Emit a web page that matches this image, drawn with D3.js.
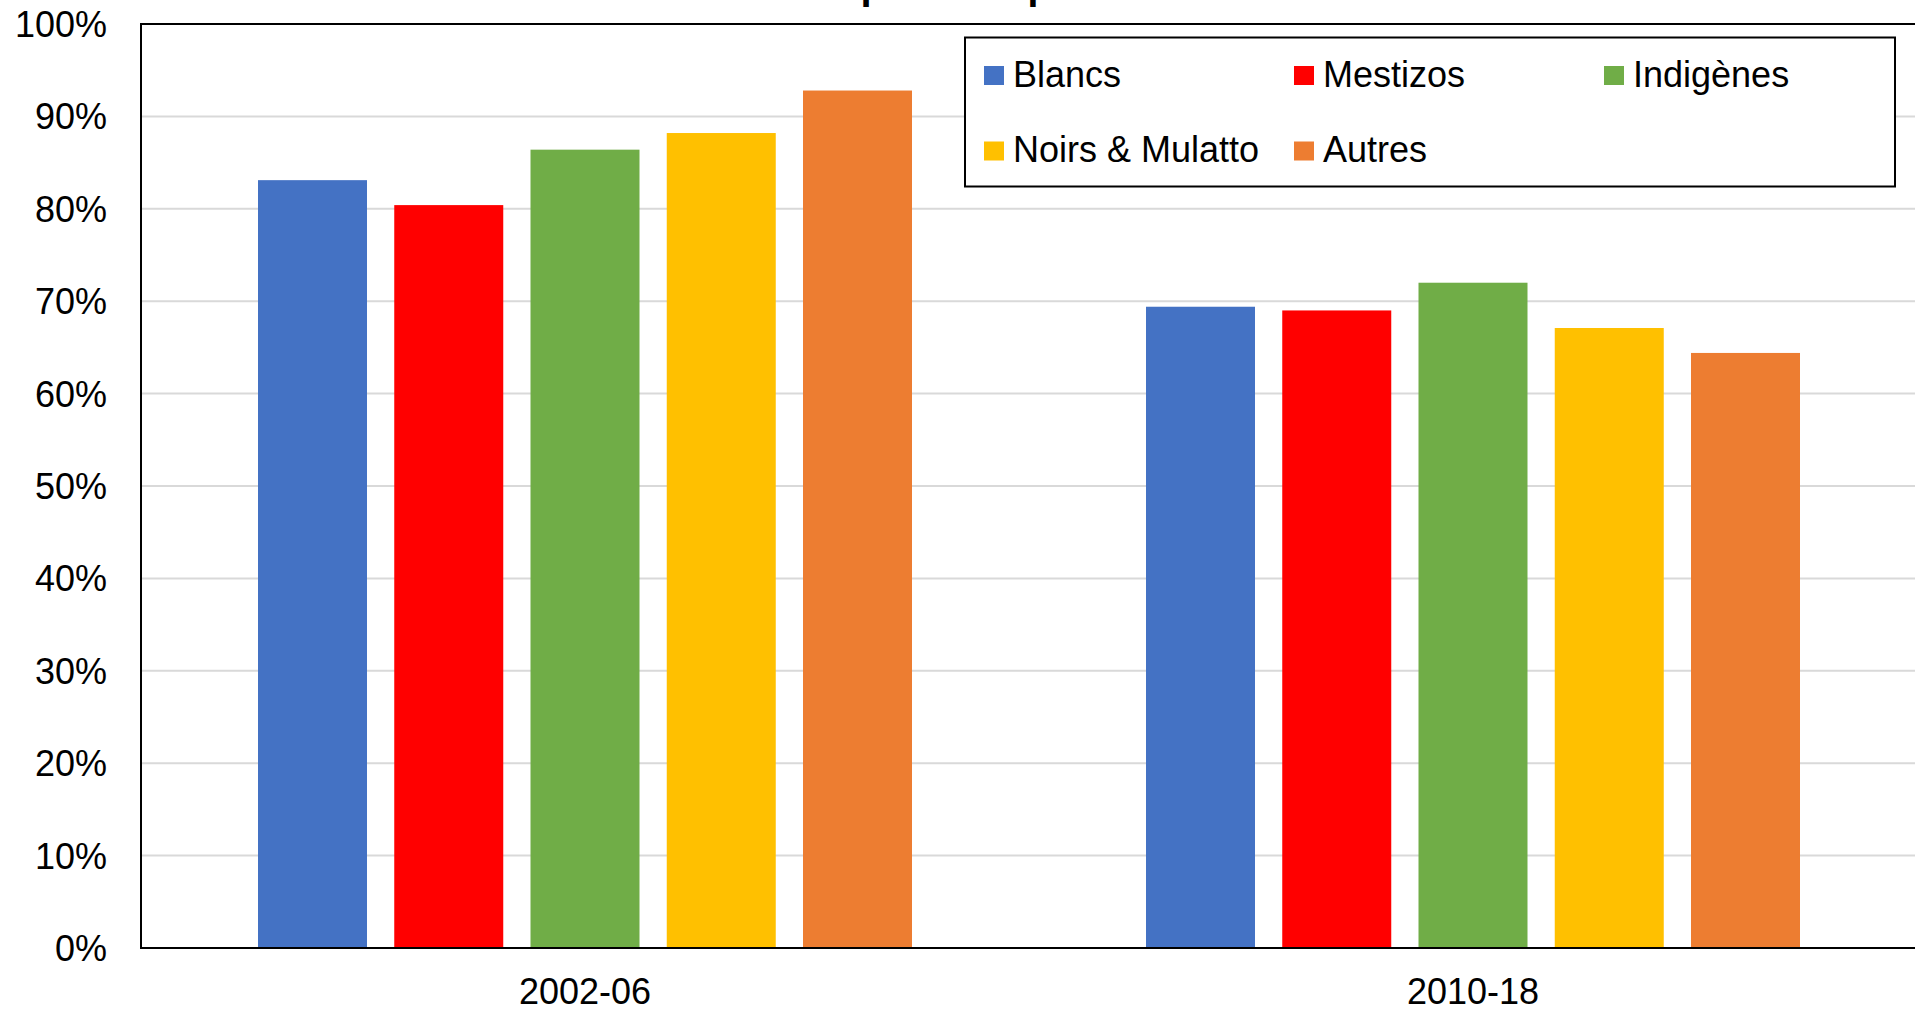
<!DOCTYPE html>
<html>
<head>
<meta charset="utf-8">
<script src="https://cdn.jsdelivr.net/npm/d3@7"></script>
<style>
  body { margin: 0; background: #fff; }
  svg { display: block; font-family: "Liberation Sans", Arial, sans-serif; }
</style>
</head>
<body>
<svg id="barchart"></svg>
<script>
// data
var periods = ["2002-06", "2010-18"];
var groups = ["Blancs", "Mestizos", "Indigènes", "Noirs & Mulatto", "Autres"];
var colors = ["#4472C4", "#FF0000", "#70AD47", "#FFC000", "#ED7D31"];
var values2002 = [0.831, 0.804, 0.864, 0.882, 0.928];
var values2010 = [0.694, 0.690, 0.720, 0.671, 0.644];
var yTicks = [0, 0.1, 0.2, 0.3, 0.4, 0.5, 0.6, 0.7, 0.8, 0.9, 1];
var title = "Groupe ethnique";

var dataset = periods.map(function(p, i){
    var vals = i == 0 ? values2002 : values2010;
    return { period: p, values: groups.map(function(g, j){ return { group: g, value: vals[j] }; }) };
});

var dimensions = {
    width: 1915,
    height: 1012,
    margin: {
        top: 24,
        bottom: 64,
        left: 141,
        right: -2
    }
}

var svg = d3.select("#barchart")
            .attr("width", dimensions.width)
            .attr("height", dimensions.height)

var x0 = d3.scaleBand()
            .domain(periods)
            .range([dimensions.margin.left, dimensions.width - dimensions.margin.right])

var x1 = d3.scaleBand()
            .domain(groups)
            .range([117, x0.bandwidth() - 117])
            .paddingInner(0.2)

var color = d3.scaleOrdinal().domain(groups).range(colors)

var yScale = d3.scaleLinear()
            .domain([0, 1])
            .range([dimensions.height - dimensions.margin.bottom, dimensions.margin.top])

// gridlines
svg.append("g")
    .selectAll("line")
    .data(yTicks.slice(1, -1))
    .join("line")
    .attr("x1", dimensions.margin.left)
    .attr("x2", dimensions.width)
    .attr("y1", d => yScale(d))
    .attr("y2", d => yScale(d))
    .attr("stroke", "#d9d9d9")
    .attr("stroke-width", 2)

// bars
svg.append("g")
    .selectAll("g")
    .data(dataset)
    .join("g")
    .attr("transform", d => `translate(${x0(d.period)},0)`)
    .selectAll("rect")
    .data(d => d.values)
    .join("rect")
    .attr("x", d => x1(d.group))
    .attr("width", x1.bandwidth())
    .attr("y", d => yScale(d.value))
    .attr("height", d => yScale(0) - yScale(d.value))
    .attr("fill", d => color(d.group))

// plot border
svg.append("rect")
    .attr("x", dimensions.margin.left)
    .attr("y", dimensions.margin.top)
    .attr("width", x0.range()[1] - dimensions.margin.left)
    .attr("height", yScale(0) - yScale(1))
    .attr("fill", "none")
    .attr("stroke", "#000")
    .attr("stroke-width", 2)

// y axis labels
var yAxisGen = d3.axisLeft(yScale).tickValues(yTicks).tickFormat(d3.format(".0%")).tickSize(0).tickPadding(34)
var yAxis = svg.append("g")
    .attr("transform", `translate(${dimensions.margin.left},1)`)
    .call(yAxisGen)
yAxis.select(".domain").remove()
yAxis.selectAll("text")
    .style("font-family", "Liberation Sans, Arial, sans-serif")
    .style("font-size", "36px")
    .attr("fill", "#000")

// x axis labels
var xAxisGen = d3.axisBottom(x0).tickSize(0).tickPadding(0)
var xAxis = svg.append("g")
    .attr("transform", `translate(0,${yScale(0)})`)
    .call(xAxisGen)
xAxis.select(".domain").remove()
xAxis.selectAll("text")
    .style("font-family", "Liberation Sans, Arial, sans-serif")
    .style("font-size", "36px")
    .attr("fill", "#000")
    .attr("dy", null)
    .attr("y", 56)

// title (cut off at the top like the source)
svg.append("text")
    .attr("x", 925)
    .attr("y", -1)
    .attr("text-anchor", "middle")
    .style("font-size", "40px")
    .style("font-weight", "bold")
    .text(title)

// legend
var legendBox = { x: 965, y: 37.5, width: 930, height: 149 }
var legend = svg.append("g")

legend.append("rect")
    .attr("x", legendBox.x)
    .attr("y", legendBox.y)
    .attr("width", legendBox.width)
    .attr("height", legendBox.height)
    .attr("fill", "#fff")
    .attr("stroke", "#000")
    .attr("stroke-width", 2)

var colX = [984, 1294, 1604]
var rowY = [66, 141.5]

var items = legend.selectAll("g.item")
    .data(groups)
    .join("g")
    .attr("class", "item")
    .attr("transform", (d, i) => `translate(${colX[i % 3]},${rowY[Math.floor(i / 3)]})`)

items.append("rect")
    .attr("width", 20)
    .attr("height", 19)
    .attr("fill", d => color(d))

items.append("text")
    .attr("x", 29)
    .attr("y", 20.5)
    .style("font-size", "36px")
    .text(d => d)
</script>
</body>
</html>
